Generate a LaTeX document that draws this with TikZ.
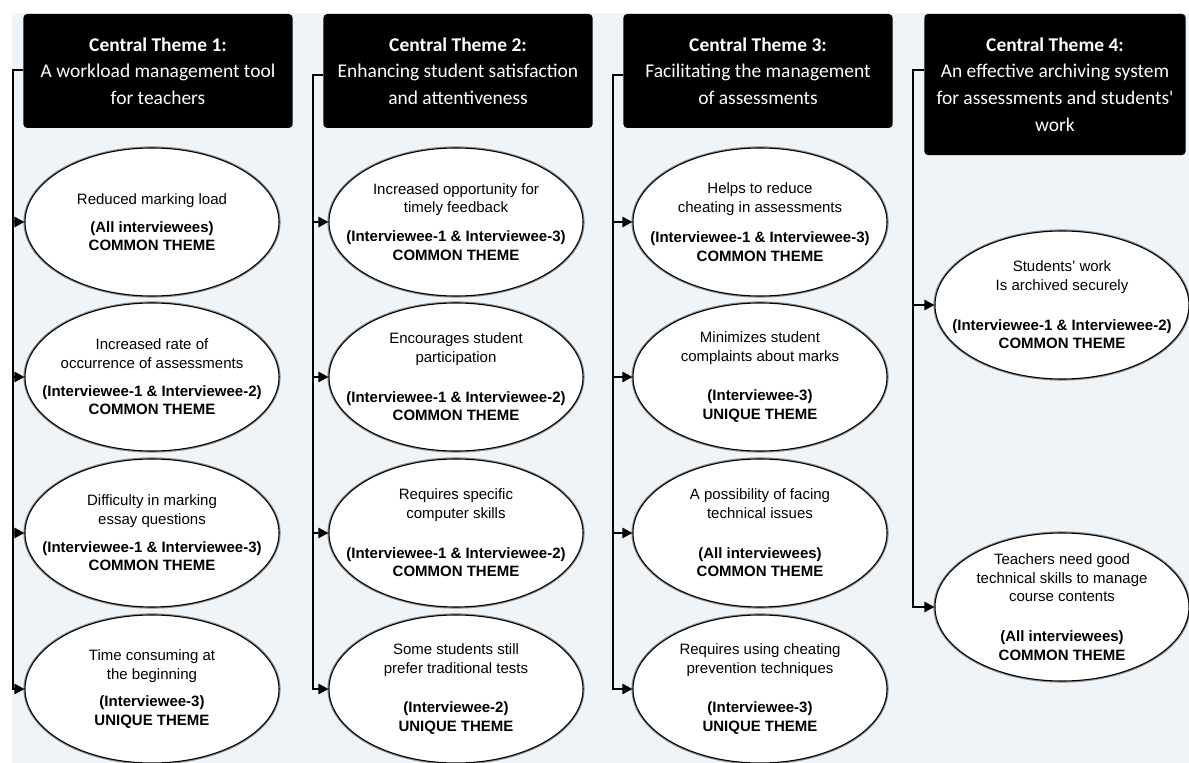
\documentclass[tikz,border=0pt]{standalone}
\usepackage{fontspec}
\setmainfont{Liberation Sans}
\newfontfamily\headfont{Carlito}
\usetikzlibrary{arrows.meta, shapes.geometric}
\definecolor{panel}{RGB}{239,244,249}
\newcommand*{\who}[2]{\textbf{(#1)}\\\textbf{#2 THEME}}

\begin{document}
\begin{tikzpicture}[x=0.75pt, y=-0.75pt]
      \useasboundingbox (0,0) rectangle (1189,763);
      \fill[panel] (12,13) rectangle (1189,763);

      \tikzstyle{theme}=[fill=black, rounded corners=3pt, text=white, align=center,
        minimum width=202pt, minimum height=85.5pt,
        font=\headfont\fontsize{14.6}{20}\selectfont]
      \tikzstyle{finding}=[ellipse, draw=black, fill=white, line width=0.8pt,
        preaction={draw=black!45, line width=2.4pt},
        minimum width=190.5pt, minimum height=111pt,
        inner xsep=-40pt, inner ysep=-25pt, align=center,
        font=\fontsize{11.25}{13.9}\selectfont]
      \tikzstyle{link}=[line width=2.2pt, -{Triangle[length=7.5pt,width=7.5pt]}]

      % central themes
      \node[theme] (h1) at (158,71) {\textbf{Central Theme 1:}\\A workload management tool\\for teachers};
      \node[theme] (h2) at (458,71) {\textbf{Central Theme 2:}\\Enhancing student satisfaction\\and attentiveness};
      \node[theme] (h3) at (758,71) {\textbf{Central Theme 3:}\\Facilitating the management\\of assessments};
      \node[theme, minimum width=196pt, minimum height=106pt] (h4) at (1055,84.5)
        {\textbf{Central Theme 4:}\\An effective archiving system\\for assessments and students'\\work};

      % sub-themes
      \node[finding] (f11) at (152,222)
        {Reduced marking load\\[7pt]\who{All interviewees}{COMMON}};
      \node[finding] (f12) at (152,377)
        {Increased rate of\\occurrence of assessments\\[7pt]\who{Interviewee-1 \& Interviewee-2}{COMMON}};
      \node[finding] (f13) at (152,533)
        {Difficulty in marking\\essay questions\\[7pt]\who{Interviewee-1 \& Interviewee-3}{COMMON}};
      \node[finding] (f14) at (152,689)
        {Time consuming at\\the beginning\\[7pt]\who{Interviewee-3}{UNIQUE}};

      \node[finding] (f21) at (456,222)
        {Increased opportunity for\\timely feedback\\[8pt]\who{Interviewee-1 \& Interviewee-3}{COMMON}};
      \node[finding] (f22) at (456,377)
        {Encourages student\\participation\\[16pt]\who{Interviewee-1 \& Interviewee-2}{COMMON}};
      \node[finding] (f23) at (456,533)
        {Requires specific\\computer skills\\[16pt]\who{Interviewee-1 \& Interviewee-2}{COMMON}};
      \node[finding] (f24) at (456,689)
        {Some students still\\prefer traditional tests\\[16pt]\who{Interviewee-2}{UNIQUE}};

      \node[finding] (f31) at (760,222)
        {Helps to reduce\\cheating in assessments\\[9pt]\who{Interviewee-1 \& Interviewee-3}{COMMON}};
      \node[finding] (f32) at (760,377)
        {Minimizes student\\complaints about marks\\[16pt]\who{Interviewee-3}{UNIQUE}};
      \node[finding] (f33) at (760,533)
        {A possibility of facing\\technical issues\\[16pt]\who{All interviewees}{COMMON}};
      \node[finding] (f34) at (760,689)
        {Requires using cheating\\prevention techniques\\[16pt]\who{Interviewee-3}{UNIQUE}};

      \node[finding] (f41) at (1062,305)
        {Students' work\\Is archived securely\\[16pt]\who{Interviewee-1 \& Interviewee-2}{COMMON}};
      \node[finding] (f42) at (1062,607)
        {Teachers need good\\technical skills to manage\\course contents\\[16pt]\who{All interviewees}{COMMON}};

      % connectors
      \foreach \c/\tx/\ty/\last in {1/13/70/4, 2/313/75/4, 3/613/75/4, 4/913/70/2}
      {
        \coordinate (k\c) at (\tx,\ty);
        \draw[link] (h\c.west |- k\c) -- (k\c) |- (f\c\last.west);
      }
      \foreach \c in {1, 2, 3}
        \foreach \r in {1, 2, 3}
          \draw[link] (k\c |- f\c\r.west) -- (f\c\r.west);
      \draw[link] (k4 |- f41.west) -- (f41.west);
\end{tikzpicture}
\end{document}
